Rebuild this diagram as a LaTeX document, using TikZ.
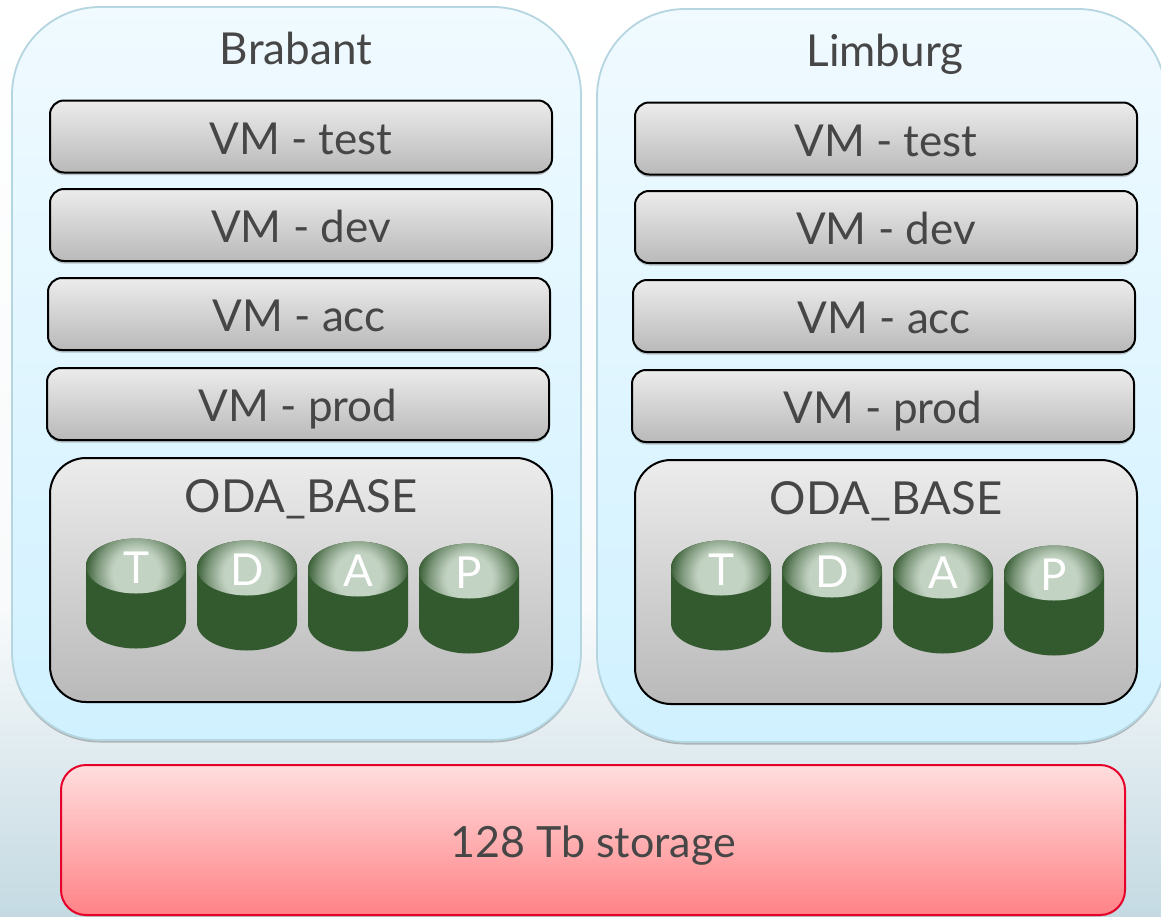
\documentclass[tikz,border=0pt]{standalone}
\usepackage{fontspec}
\setmainfont{Lato}
\usetikzlibrary{shadows,calc}
\definecolor{txt}{HTML}{464646}
\definecolor{cylbody}{HTML}{33592F}
\definecolor{cylhi}{HTML}{C3D3C3}
\pgfdeclareradialshading{cyltop}{\pgfpoint{0bp}{0bp}}{color(0bp)=(cylhi);color(11bp)=(cylhi);color(13bp)=(cylhi!90!cylbody);color(19bp)=(cylhi!50!cylbody);color(25bp)=(cylbody);color(50bp)=(cylbody)}
\tikzset{
  lbl/.style={text=txt,font=\fontsize{44}{50}\selectfont,inner sep=0pt,anchor=base},
  panelbox/.style={draw=HTMLpanel,line width=1.8pt,rounded corners=88pt,top color=HTMLpaneltop,bottom color=HTMLpanelbot,
    inner sep=0pt,minimum width=569pt,minimum height=733pt,
    drop shadow={shadow xshift=0pt,shadow yshift=-2.5pt,opacity=.35,fill=black!70}},
  vmbox/.style={draw=black,line width=2pt,rounded corners=14pt,top color=HTMLgreytop,bottom color=HTMLgreybot,
    inner sep=0pt,minimum width=502pt,minimum height=72pt,
    text=txt,font=\fontsize{44}{50}\selectfont,text height=35pt,text depth=0pt,
    drop shadow={shadow xshift=0pt,shadow yshift=-2.5pt,opacity=.3,fill=black!70}},
  odabox/.style={draw=black,line width=2pt,rounded corners=36pt,top color=HTMLgreytop,bottom color=HTMLgreybot,
    inner sep=0pt,minimum width=502pt,minimum height=244pt},
  storebox/.style={draw=HTMLred,line width=2pt,rounded corners=25pt,top color=HTMLredtop,bottom color=HTMLredbot,
    inner sep=0pt,minimum width=1064pt,minimum height=150pt,
    text=txt,font=\fontsize{43}{50}\selectfont,text height=34pt,text depth=0pt,
    drop shadow={shadow xshift=0pt,shadow yshift=-1.5pt,opacity=.2,fill=black!70}},
  cylletter/.style={text=white,font=\fontsize{44}{50}\selectfont,inner sep=0pt,text height=33pt,text depth=0pt},
}
\definecolor{HTMLpanel}{HTML}{B5D5E0}
\definecolor{HTMLpaneltop}{HTML}{F0FAFF}
\definecolor{HTMLpanelbot}{HTML}{D0F1FF}
\definecolor{HTMLgreytop}{HTML}{ECECEC}
\definecolor{HTMLgreybot}{HTML}{B9B9B9}
\definecolor{HTMLred}{HTML}{E6002A}
\definecolor{HTMLredtop}{HTML}{FFDEDE}
\definecolor{HTMLredbot}{HTML}{FF8286}
\definecolor{bgtop}{HTML}{FFFFFF}
\definecolor{bgmid}{HTML}{F8FAFB}
\definecolor{bgbot}{HTML}{C4DAE2}
% \cyl{name}{left x}{top y}{letter}
\newcommand{\cyl}[4]{%
  \fill[cylbody] (#2,#3+28) -- (#2,#3+83) arc[start angle=180,end angle=360,x radius=50,y radius=-27.5]
     -- (#2+100,#3+28) arc[start angle=0,end angle=180,x radius=50,y radius=-27.5] -- cycle;
  \begin{scope}
    \clip (#2+50,#3+28) ellipse[x radius=50,y radius=27.5];
    \shade[shading=cyltop] (#2+50,#3+35) circle[radius=52];
  \end{scope}
  \node[cylletter] (#1) at (#2+50,#3+29) {#4};
}
% \site{prefix}{dx}{dy}{title}{title x}
\newcommand{\site}[5]{%
  \begin{scope}[shift={(#2,#3)}]
  \node[panelbox] (#1panel) at (296.5,373.5) {};
  \node[lbl] (#1title) at (#5,64) {#4};
  \node[vmbox] (#1test) at (301,136.5) {VM - test};
  \node[vmbox] (#1dev) at (301,225) {VM - dev};
  \node[vmbox] (#1acc) at (299,314) {VM - acc};
  \node[vmbox] (#1prod) at (298,404) {VM - prod};
  \node[odabox] (#1oda) at (301,580) {};
  \node[lbl,font=\fontsize{45.5}{50}\selectfont] (#1odatitle) at (301,512) {ODA\_BASE};
  \cyl{#1T}{86}{538}{T}
  \cyl{#1D}{197}{540}{D}
  \cyl{#1A}{308}{541}{A}
  \cyl{#1P}{419}{543}{P}
  \end{scope}
}
\begin{document}
\begin{tikzpicture}[x=1pt,y=-1pt]
  \clip (0,0) rectangle (1161,916);
  \shade[top color=bgtop,bottom color=bgmid] (0,0) rectangle (1161,610);
  \shade[top color=bgmid,bottom color=bgbot] (0,610) rectangle (1161,916);
  \site{b}{0}{0}{Brabant}{296}
  \site{l}{585}{2}{Limburg}{300}
  \node[storebox] (storage) at (593,840) {128 Tb storage};
\end{tikzpicture}
\end{document}
